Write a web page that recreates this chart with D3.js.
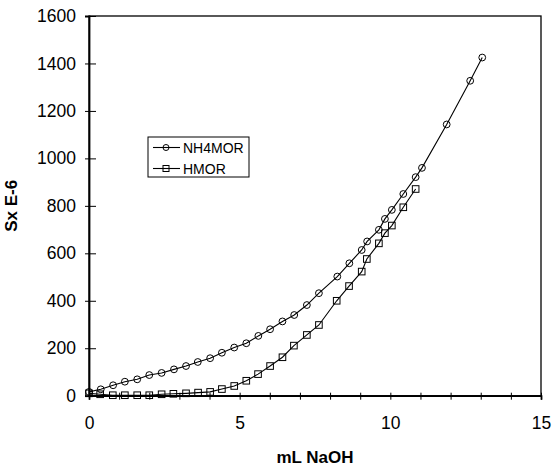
<!DOCTYPE html>
<html>
<head>
<meta charset="utf-8">
<script src="https://cdn.jsdelivr.net/npm/d3@7"></script>
<style>
  body { margin: 0; background: #fff; }
  text { font-family: "Liberation Sans", Arial, sans-serif; fill: #000; }
</style>
</head>
<body>
<div class="chart"></div>
<script>
const svgWidth = 555
const svgHeight = 466

let margin = { top: 16, right: 14, bottom: 70, left: 89 }
let width = 541 - margin.left
let height = 395.7 - margin.top

// NH4MOR series (circles)
const nh4morX = [0, 0.39, 0.8, 1.19, 1.6, 2.0, 2.41, 2.82, 3.22, 3.61, 4.02, 4.41, 4.82, 5.22, 5.62, 6.01, 6.42, 6.81, 7.23, 7.63, 8.24, 8.64, 9.05, 9.23, 9.62, 9.82, 10.05, 10.43, 10.84, 11.05, 11.87, 12.65, 13.05]
const nh4morY = [16, 27, 44, 59, 69, 87, 96, 111, 125, 142, 158, 181, 203, 221, 252, 280, 313, 340, 382, 432, 502, 558, 614, 650, 699, 745, 783, 850, 921, 960, 1143, 1327, 1425]

// HMOR series (squares)
const hmorX = [0, 0.37, 0.79, 1.19, 1.6, 2.0, 2.41, 2.8, 3.22, 3.62, 4.02, 4.41, 4.82, 5.22, 5.61, 6.01, 6.42, 6.8, 7.23, 7.63, 8.22, 8.63, 9.05, 9.22, 9.62, 9.82, 10.05, 10.43, 10.84]
const hmorY = [10, 6, 2, 2, 2, 2, 6, 8, 10, 13, 16, 28, 41, 63, 91, 125, 162, 211, 256, 298, 400, 462, 523, 576, 642, 685, 717, 794, 871]

const xTicks = [0, 5, 10, 15]
const yTicks = [0, 200, 400, 600, 800, 1000, 1200, 1400, 1600]

let svg = d3.select(".chart").append("svg")
  .attr("width", svgWidth)
  .attr("height", svgHeight)

let chartGroup = svg.append("g")
  .attr("transform", `translate(${margin.left}, ${margin.top})`)

let x = d3.scaleLinear().domain([0, 15]).range([0, width])
let y = d3.scaleLinear().domain([0, 1600]).range([height, 0])

// frame
chartGroup.append("rect")
  .attr("width", width).attr("height", height)
  .attr("fill", "none").attr("stroke", "#000").attr("stroke-width", 1.3)

// x axis: minor ticks every 1, labels at 0,5,10,15
let xAxis = chartGroup.append("g")
  .attr("transform", `translate(0, ${height})`)
  .call(d3.axisBottom(x).tickValues(d3.range(0, 16)).tickSize(4)
    .tickFormat(d => xTicks.includes(d) ? d : ""))
xAxis.select(".domain").attr("stroke-width", 1.8)
xAxis.selectAll(".tick line").attr("y1", -3).attr("y2", 4)
xAxis.selectAll(".tick text").attr("dy", 0).attr("y", 33).attr("font-size", 17.5)

let yAxis = chartGroup.append("g")
  .call(d3.axisLeft(y).tickValues(yTicks).tickSize(4).tickFormat(d3.format("d")))
yAxis.select(".domain").attr("stroke-width", 1.8)
yAxis.selectAll(".tick line").attr("x1", -4).attr("x2", 7)
yAxis.selectAll(".tick text").attr("x", -13).attr("font-size", 17.5)

svg.selectAll(".domain").attr("stroke", "#000")
svg.selectAll(".tick line").attr("stroke", "#000")

// axis titles
chartGroup.append("text")
  .attr("x", width / 2).attr("y", height + 67)
  .attr("text-anchor", "middle")
  .attr("font-size", 17).attr("font-weight", "bold")
  .text("mL NaOH")

chartGroup.append("text")
  .attr("transform", "rotate(-90)")
  .attr("x", -height / 2).attr("y", -margin.left + 17)
  .attr("text-anchor", "middle")
  .attr("font-size", 17).attr("font-weight", "bold")
  .text("Sx E-6")

let line = d3.line().x(d => x(d[0])).y(d => y(d[1]))

let nh4mor = d3.zip(nh4morX, nh4morY)
let hmor = d3.zip(hmorX, hmorY)

chartGroup.append("path").datum(nh4mor)
  .attr("d", line).attr("fill", "none").attr("stroke", "#000").attr("stroke-width", 1.1)
chartGroup.append("path").datum(hmor)
  .attr("d", line).attr("fill", "none").attr("stroke", "#000").attr("stroke-width", 1.1)

chartGroup.selectAll(".circ").data(nh4mor).enter().append("circle")
  .attr("cx", d => x(d[0])).attr("cy", d => y(d[1])).attr("r", 3.4)
  .attr("fill", "none").attr("stroke", "#000").attr("stroke-width", 1)

chartGroup.selectAll(".sq").data(hmor).enter().append("rect")
  .attr("x", d => x(d[0]) - 3.3).attr("y", d => y(d[1]) - 3.3)
  .attr("width", 6.6).attr("height", 6.6)
  .attr("fill", "none").attr("stroke", "#000").attr("stroke-width", 1)

// legend
let legend = svg.append("g").attr("transform", "translate(148, 137)")
legend.append("rect").attr("width", 101).attr("height", 40)
  .attr("fill", "#fff").attr("stroke", "#000").attr("stroke-width", 1)

let entries = ["NH4MOR", "HMOR"]
entries.forEach((name, i) => {
  let ly = 10.5 + i * 21
  legend.append("line").attr("x1", 5).attr("x2", 32).attr("y1", ly).attr("y2", ly)
    .attr("stroke", "#000").attr("stroke-width", 1.1)
  if (i === 0) {
    legend.append("circle").attr("cx", 18).attr("cy", ly).attr("r", 3)
      .attr("fill", "none").attr("stroke", "#000")
  } else {
    legend.append("rect").attr("x", 15).attr("y", ly - 3).attr("width", 6).attr("height", 6)
      .attr("fill", "none").attr("stroke", "#000")
  }
  legend.append("text").attr("x", 35).attr("y", ly + 5)
    .attr("font-size", 14).text(name)
})
</script>
</body>
</html>
